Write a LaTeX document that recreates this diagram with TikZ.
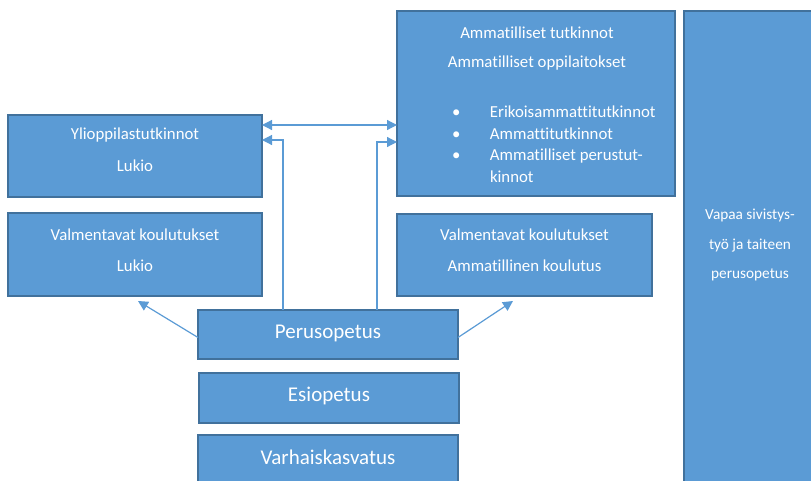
\documentclass[tikz,border=0pt]{standalone}
\usepackage{fontspec}
\setmainfont{Carlito}[Ligatures=CommonOff]
\usetikzlibrary{arrows.meta}
\begin{document}
\begin{tikzpicture}[x=1pt,y=-1pt,line cap=rect,
  blok/.style={draw=custcol_41_71_9c, fill=custcol_5b_9b_d5, line width=1.4pt, inner sep=0, outer sep=0, anchor=north west},
  txt/.style={inner sep=0, outer sep=0, text=white, anchor=base, font=\fontsize{16.8pt}{20pt}\selectfont},
  isotxt/.style={txt, font=\fontsize{21pt}{25pt}\selectfont},
  conn/.style={draw=custcol_5b_9b_d5, line width=1.2pt, line cap=butt, -{Triangle[length=10pt,width=10pt]}}]
\definecolor{custcol_5b_9b_d5}{RGB}{91, 155, 213}
\definecolor{custcol_41_71_9c}{RGB}{65, 113, 156}
\useasboundingbox (0,0) rectangle (811,480);
% boxes
\node[blok, minimum width=254pt, minimum height=82pt] (yli) at (8,115) {};
\node[blok, minimum width=254pt, minimum height=83pt] (valmlu) at (8,213) {};
\node[blok, minimum width=278pt, minimum height=185pt] (amm) at (397,11) {};
\node[blok, minimum width=255pt, minimum height=82pt] (valmam) at (397,214) {};
\node[blok, minimum width=140pt, minimum height=475pt] (vapaa) at (684,11) {};
\node[blok, minimum width=260pt, minimum height=49pt] (peru) at (198,310) {};
\node[blok, minimum width=260pt, minimum height=50pt] (esi) at (199,373) {};
\node[blok, minimum width=260pt, minimum height=50pt] (varh) at (198,435) {};
% texts
\node[txt] (yliA) at (135,139) {Ylioppilastutkinnot};
\node[txt] (yliB) at (135,171.5) {Lukio};
\node[txt] (valmluA) at (135,240) {Valmentavat koulutukset};
\node[txt] (valmluB) at (135,271.5) {Lukio};
\node[txt] (valmamA) at (524.5,240) {Valmentavat koulutukset};
\node[txt] (valmamB) at (524.5,271.5) {Ammatillinen koulutus};
\node[txt] (ammA) at (537,38) {Ammatilliset tutkinnot};
\node[txt] (ammB) at (537,67.5) {Ammatilliset oppilaitokset};
\node[txt, anchor=base west, font=\fontsize{16.8pt}{21.5pt}\selectfont] (ammlist) at (452,117.5) {%
  \begin{tabular}[t]{@{}p{38pt}@{}l@{}}
  \textbullet & Erikoisammattitutkinnot\\
  \textbullet & Ammattitutkinnot\\
  \textbullet & Ammatilliset perustut-\\
              & kinnot
  \end{tabular}};
\node[txt, font=\fontsize{15.3pt}{29.5pt}\selectfont, anchor=base, align=center] (vapaaT) at (750,278.5) {Vapaa sivistys-\\työ ja taiteen\\perusopetus};
\node[isotxt] (peruT) at (328,338.5) {Perusopetus};
\node[isotxt] (esiT) at (329,401.8) {Esiopetus};
\node[isotxt] (varhT) at (328,464.2) {Varhaiskasvatus};
% connectors
\coordinate (valmluTip) at (138,301);
\coordinate (valmamTip) at (513,301);
\draw[conn, {Triangle[length=10pt,width=10pt]}-{Triangle[length=10pt,width=10pt]}] ([yshift=31pt]yli.east) -- ([yshift=31pt]yli.east -| amm.west);
\draw[conn] ([xshift=85pt]peru.north west) |- ([yshift=16pt]yli.east);
\draw[conn] ([xshift=179pt]peru.north west) |- ([yshift=-38.5pt]amm.west);
\draw[conn] ([yshift=-3pt]peru.west) -- (valmluTip);
\draw[conn] ([yshift=-3pt]peru.east) -- (valmamTip);
\end{tikzpicture}
\end{document}
